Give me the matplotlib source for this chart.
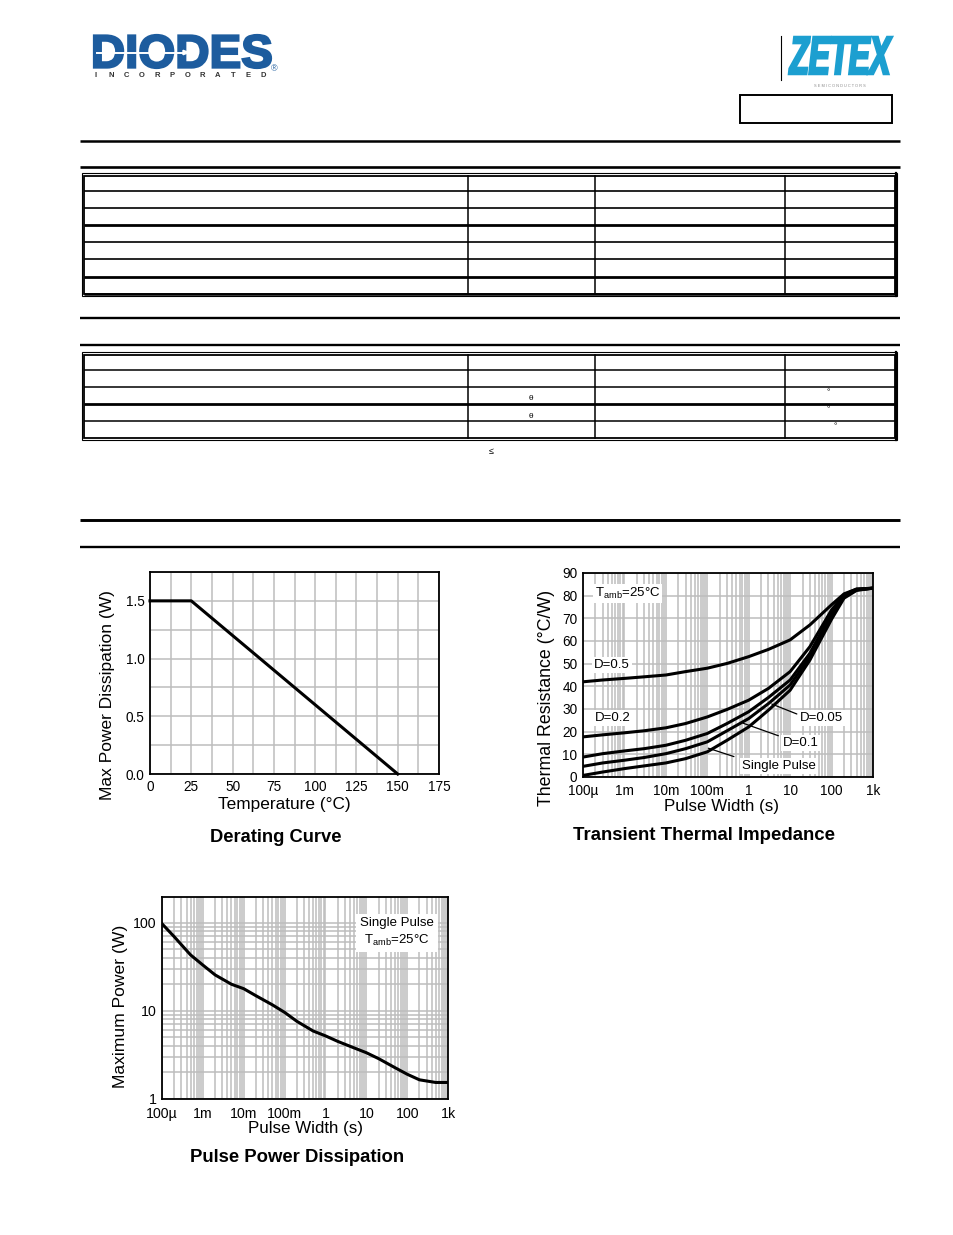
import numpy as np
import matplotlib
matplotlib.use("Agg")
import matplotlib.pyplot as plt
from matplotlib.textpath import TextPath
from matplotlib.patches import PathPatch, Rectangle, Polygon
from matplotlib.font_manager import FontProperties
from matplotlib.transforms import Affine2D
from matplotlib.ticker import MultipleLocator, LogLocator, NullFormatter

plt.rcParams['font.family'] = ['Liberation Sans', 'DejaVu Sans']
plt.rcParams['mathtext.fontset'] = 'custom'
plt.rcParams['mathtext.rm'] = 'Liberation Sans'
plt.rcParams['mathtext.it'] = 'Liberation Sans:italic'

# ====== data ======
# Derating curve
derate_temp = [0, 25, 150]
derate_power = [1.5, 1.5, 0.0]
temp_ticks = [0, 25, 50, 75, 100, 125, 150, 175]
power_ticks = [0.0, 0.5, 1.0, 1.5]
power_tick_labels = ["0.0", "0.5", "1.0", "1.5"]

# pulse width axis (shared by the two log charts)
pw_ticks = [1e-4, 1e-3, 1e-2, 1e-1, 1, 10, 100, 1000]
pw_tick_labels = ["100µ", "1m", "10m", "100m", "1", "10", "100", "1k"]

# Transient thermal impedance
tti_width = [1e-4, 3e-4, 1e-3, 3e-3, 1e-2, 3e-2, 1e-1, 3e-1, 1, 3, 10, 30, 100, 200, 400, 1000]
tti_d05 = [42.0, 42.8, 43.5, 44.2, 45.0, 46.5, 48.0, 50.1, 53.1, 56.3, 60.5, 67.1, 76.0, 80.8, 82.9, 83.3]
tti_d02 = [17.7, 18.6, 19.5, 20.4, 21.7, 23.6, 26.5, 29.8, 33.9, 39.1, 46.5, 57.5, 73.7, 80.4, 82.9, 83.3]
tti_d01 = [8.8, 10.3, 11.5, 12.5, 14.0, 16.2, 19.2, 23.6, 28.8, 35.1, 42.8, 54.6, 72.3, 79.9, 82.6, 83.3]
tti_d005 = [4.7, 6.2, 7.4, 8.6, 10.3, 12.5, 15.5, 20.4, 25.8, 32.4, 40.6, 53.1, 71.1, 79.4, 82.6, 83.3]
tti_single = [0.7, 2.2, 3.7, 4.9, 6.2, 8.1, 11.1, 16.2, 22.1, 29.5, 38.3, 51.6, 69.6, 78.9, 82.3, 83.3]
tti_yticks = [0, 10, 20, 30, 40, 50, 60, 70, 80, 90]

# Pulse power dissipation
pp_width = [1e-4, 2e-4, 5e-4, 1e-3, 2e-3, 5e-3, 1e-2, 2e-2, 5e-2, 0.1, 0.2, 0.5,
            1, 2, 5, 10, 20, 50, 100, 200, 500, 1000]
pp_power = [97, 69, 43, 33, 25.5, 20, 17.8, 14.8, 11.7, 9.6, 7.6, 5.9,
            5.2, 4.5, 3.8, 3.35, 2.87, 2.27, 1.91, 1.65, 1.54, 1.54]
pp_yticks = [1, 10, 100]
pp_ytick_labels = ["1", "10", "100"]

W, H = 954, 1235
GRID = "#bdbdbd"

fig = plt.figure(figsize=(W / 100, H / 100), dpi=100)
fig.patch.set_facecolor("white")

# ====== page decoration in pixel coordinates ======
pg = fig.add_axes([0, 0, 1, 1])
pg.set_xlim(0, W)
pg.set_ylim(H, 0)
pg.axis("off")


def fit_text(ax, s, x0, y0, x1, y1, color, weight="bold", style="normal", stroke=0.0):
    fp = FontProperties(family="Liberation Sans", weight=weight, style=style)
    tp = TextPath((0, 0), s, size=100, prop=fp)
    ext = tp.get_extents()
    sx = (x1 - x0) / ext.width
    sy = (y1 - y0) / ext.height
    tr = Affine2D().translate(-ext.x0, -ext.y0).scale(sx, -sy).translate(x0, y1)
    ax.add_patch(PathPatch(tr.transform_path(tp), facecolor=color, edgecolor=color,
                           lw=stroke, joinstyle="miter"))


# DIODES logo
fit_text(pg, "DIODES", 94, 35, 271, 68, "#1d5c9e", stroke=1.6)
pg.plot([96, 183], [52.5, 52.5], color="white", lw=1.4, solid_capstyle="butt")
pg.add_patch(Polygon([[183, 50.3], [189, 52.5], [183, 54.7]], closed=True, color="white"))
for i, ch in enumerate("INCORPORATED"):
    pg.text(96 + i * 15.2, 75.5, ch, fontsize=5.5, fontweight="bold", color="#333333",
            ha="center", va="center")
pg.text(274, 69, "®", fontsize=6.5, color="#1d5c9e", ha="center", va="center")

# ZETEX logo
pg.plot([781, 781], [36, 80], color="black", lw=0.8)
fit_text(pg, "ZETEX", 789, 37, 892, 74, "#1c9fd0", style="italic", stroke=1.8)
pg.text(840, 86, "S E M I C O N D U C T O R S", fontsize=2.8, color="#888888",
        ha="center", va="center")
pg.add_patch(Rectangle((740.5, 94.5), 151.5, 28.5, fill=False, lw=1.4, ec="black"))

# horizontal rules
for y, lw in [(141, 1.8), (167, 1.9), (318, 1.7), (345, 1.7), (520, 2.1), (547, 1.7)]:
    pg.plot([80, 900], [y, y], color="black", lw=lw, solid_capstyle="butt")


def draw_table(top, bottom, rows):
    pg.add_patch(Rectangle((82, top), 815, bottom - top, fill=False, lw=0.8, ec="black"))
    pg.add_patch(Rectangle((84.5, top + 2.5), 811, bottom - top - 4.5, fill=False, lw=1.3, ec="black"))
    pg.plot([896, 896], [top, bottom], color="black", lw=1.6)
    for y, lw in rows:
        pg.plot([84.5, 895.5], [y, y], color="black", lw=lw, solid_capstyle="butt")
    for x in [468, 595, 785]:
        pg.plot([x, x], [top + 2.5, bottom - 2], color="black", lw=1.1)


draw_table(173, 295.5, [(190.5, 1.2), (207.5, 1.2), (225, 2.0), (242, 1.2), (259, 1.2), (277, 2.0), (293.5, 1.8)])
draw_table(352, 440, [(370, 1.1), (387, 1.1), (404, 2.0), (421, 1.1)])
pg.text(531, 398, "θ", fontsize=6, ha="center", va="center")
pg.text(531, 416, "θ", fontsize=6, ha="center", va="center")
for x, y in [(828, 393), (828, 410), (835, 427)]:
    pg.text(x, y, "°", fontsize=6, ha="center", va="center")
pg.text(491, 452, "≤", fontsize=6.5, ha="center", va="center")

# chart titles
pg.text(276, 838, "Derating Curve", fontsize=13.2, fontweight="bold", ha="center", va="center")
pg.text(704, 836, "Transient Thermal Impedance", fontsize=13.4, fontweight="bold", ha="center", va="center")
pg.text(297, 1157, "Pulse Power Dissipation", fontsize=13.3, fontweight="bold", ha="center", va="center")


def style_axes(ax, fs):
    for s in ax.spines.values():
        s.set_linewidth(1.3)
        s.set_color("black")
    ax.tick_params(which="both", length=0, labelsize=fs, pad=4)
    ax.set_axisbelow(True)


# ====== Derating curve ======
ax1 = fig.add_axes([150 / W, 1 - 774 / H, 289 / W, 202 / H])
ax1.plot(derate_temp, derate_power, color="black", lw=2.2, clip_on=False, zorder=3)
ax1.set_xlim(0, 175)
ax1.set_ylim(0, 1.75)
ax1.set_xticks(temp_ticks)
ax1.set_yticks(power_ticks)
ax1.set_yticklabels(power_tick_labels)
ax1.xaxis.set_minor_locator(MultipleLocator(12.5))
ax1.yaxis.set_minor_locator(MultipleLocator(0.25))
ax1.grid(True, which="both", color=GRID, lw=1.1)
style_axes(ax1, 9.8)
ax1.set_xlabel("Temperature (°C)", fontsize=12.4)
ax1.set_ylabel("Max Power Dissipation (W)", fontsize=12.5)
ax1.xaxis.set_label_coords(0.464, -0.112)
ax1.yaxis.set_label_coords(-0.12, 0.39)

# ====== Transient thermal impedance ======
ax2 = fig.add_axes([583 / W, 1 - 777 / H, 290 / W, 204 / H])
for ys in [tti_d05, tti_d02, tti_d01, tti_d005, tti_single]:
    ax2.plot(tti_width, ys, color="black", lw=2.2, zorder=3)
ax2.set_xscale("log")
ax2.set_xlim(1e-4, 1e3)
ax2.set_ylim(0, 90)
ax2.set_xticks(pw_ticks)
ax2.set_xticklabels(pw_tick_labels)
ax2.set_yticks(tti_yticks)
ax2.xaxis.set_minor_locator(LogLocator(base=10, subs=np.arange(2, 10), numticks=20))
ax2.xaxis.set_minor_formatter(NullFormatter())
ax2.grid(True, which="major", color=GRID, lw=1.1)
ax2.grid(True, which="minor", axis="x", color=GRID, lw=1.1)
style_axes(ax2, 9.8)
ax2.tick_params(axis="x", pad=5)
ax2.set_xlabel("Pulse Width (s)", fontsize=12.2)
ax2.set_ylabel("Thermal Resistance (°C/W)", fontsize=12.8)
ax2.xaxis.set_label_coords(0.476, -0.11)
ax2.yaxis.set_label_coords(-0.097, 0.39)

box = dict(facecolor="white", edgecolor="none", pad=1.5)
ax2.text(0.041, 0.9, r"T$_{\rm amb}$=25°C", transform=ax2.transAxes, fontsize=9.5,
         va="center", ha="left", bbox=box, zorder=4)
ax2.text(0.038, 0.549, "D=0.5", transform=ax2.transAxes, fontsize=9.5, va="center", bbox=box, zorder=4)
ax2.text(0.041, 0.289, "D=0.2", transform=ax2.transAxes, fontsize=9.5, va="center", bbox=box, zorder=4)
ax2.text(17.4, 26, "D=0.05", fontsize=9.5, va="center", bbox=box, zorder=4)
ax2.text(6.8, 15, "D=0.1", fontsize=9.5, va="center", bbox=box, zorder=4)
ax2.text(0.68, 4.85, "Single Pulse", fontsize=9.5, va="center", bbox=box, zorder=4)
for start, end in [((3.6, 32.2), (14.5, 27.8)), ((0.74, 23.7), (5.2, 18.2)), ((0.106, 12.7), (0.44, 9.0))]:
    ax2.annotate("", xy=end, xytext=start,
                 arrowprops=dict(arrowstyle="-", lw=0.9, color="black", shrinkA=0, shrinkB=0))

# ====== Pulse power dissipation ======
ax3 = fig.add_axes([162 / W, 1 - 1099 / H, 286 / W, 202 / H])
ax3.plot(pp_width, pp_power, color="black", lw=2.2, zorder=3)
ax3.set_xscale("log")
ax3.set_yscale("log")
ax3.set_xlim(1e-4, 1e3)
ax3.set_ylim(1, 195)
ax3.set_xticks(pw_ticks)
ax3.set_xticklabels(pw_tick_labels)
ax3.set_yticks(pp_yticks)
ax3.set_yticklabels(pp_ytick_labels)
ax3.xaxis.set_minor_locator(LogLocator(base=10, subs=np.arange(2, 10), numticks=20))
ax3.yaxis.set_minor_locator(LogLocator(base=10, subs=np.arange(2, 10), numticks=20))
ax3.xaxis.set_minor_formatter(NullFormatter())
ax3.yaxis.set_minor_formatter(NullFormatter())
ax3.grid(True, which="both", color=GRID, lw=1.1)
style_axes(ax3, 10.2)
ax3.tick_params(axis="x", pad=6)
ax3.set_xlabel("Pulse Width (s)", fontsize=12.2)
ax3.set_ylabel("Maximum Power (W)", fontsize=12.6)
ax3.xaxis.set_label_coords(0.5, -0.11)
ax3.yaxis.set_label_coords(-0.119, 0.46)
ax3.text(0.822, 0.825, "Single Pulse\n" + r"T$_{\rm amb}$=25°C", transform=ax3.transAxes,
         fontsize=9.5, ha="center", va="center", multialignment="center",
         linespacing=1.3, bbox=dict(facecolor="white", edgecolor="none", pad=3), zorder=4)

fig.savefig("out.png", dpi=100)
